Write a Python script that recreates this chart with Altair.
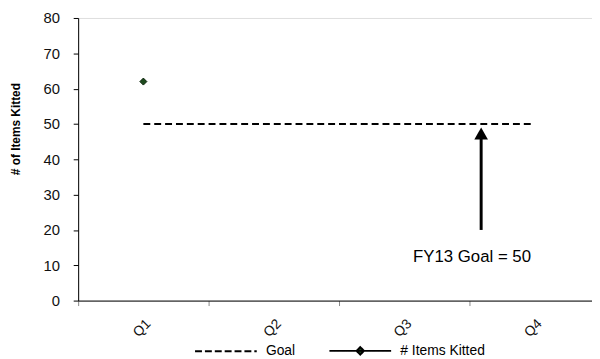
import altair as alt
import pandas as pd

quarters = ["Q1", "Q2", "Q3", "Q4"]
quarter_pos = [0.5, 1.5, 2.5, 3.5]
goal_values = [50, 50, 50, 50]
items_values = [62, None, None, None]
series_names = ["Goal", "# Items Kitted"]

arrow_x = [3.09]
arrow_y_start = [20]
arrow_y_end = [46]
arrow_head_y = [47.3]
note_x = [3.02]
note_y = [12.3]
note_text = ["FY13 Goal = 50"]

rows = []
for q, p, g, it in zip(quarters, quarter_pos, goal_values, items_values):
    rows.append({"quarter": q, "pos": p, "series": "Goal", "value": g})
    if it is not None:
        rows.append({"quarter": q, "pos": p, "series": "# Items Kitted", "value": it})
df = pd.DataFrame(rows)

ann = pd.DataFrame({"pos": arrow_x, "value": arrow_y_start, "y2": arrow_y_end,
                    "yh": arrow_head_y, "tx": note_x, "ty": note_y, "t": note_text})

FONT = "Liberation Sans"

xscale = alt.Scale(domain=[0, 3.94], nice=False, zero=False)
yscale = alt.Scale(domain=[0, 80], nice=False)

xaxis = alt.Axis(values=[0, 1, 2, 3],
                 labelExpr="['Q1','Q2','Q3','Q4'][datum.value]",
                 labelOffset=66, labelAngle=-45, labelFontSize=14,
                 labelColor="#111", labelPadding=11, tickSize=5, tickColor="#888",
                 domainColor="#000", grid=False, title=None, labelFont=FONT,
                 labelOverlap=False)
yaxis = alt.Axis(values=[0, 10, 20, 30, 40, 50, 60, 70, 80], tickCount=9,
                 labelFontSize=15, labelColor="#111",
                 labelPadding=14, tickSize=5, tickColor="#000", domainColor="#000",
                 grid=False, title="# of Items Kitted", titleFontSize=12,
                 titleFontWeight="bold", labelFont=FONT, titleFont=FONT,
                 titleColor="#000", labelOverlap=False,
                 titleX=-63, titleY=112, titleAngle=270, titleAlign="center",
                 titleBaseline="middle")

X = alt.X("pos:Q", scale=xscale, axis=xaxis)


def Y(field):
    return alt.Y(field, scale=yscale, axis=yaxis)


base = alt.Chart(df)

goal_line = base.transform_filter(alt.datum.series == "Goal").mark_line(
    color="#000", strokeWidth=2, strokeDash=[7, 4]
).encode(x=X, y=Y("value:Q"))

items_line = base.transform_filter(alt.datum.series == "# Items Kitted").mark_line(
    color="#000", strokeWidth=2
).encode(x=X, y=Y("value:Q"))

items_pt = base.transform_filter(alt.datum.series == "# Items Kitted").mark_point(
    shape="diamond", filled=True, fill="#1d4a1d", stroke="#0b240b", strokeWidth=1,
    size=50, opacity=1
).encode(x=X, y=Y("value:Q"))

leg = alt.Legend(title=None, orient="none", direction="horizontal",
                 legendX=117, legendY=304, symbolSize=3900,
                 labelFontSize=14, labelFont=FONT, labelColor="#000",
                 labelOffset=8, columnPadding=30, symbolStrokeWidth=2)

legend_layer = base.transform_filter("false").mark_point(
    filled=True, fill="#1d4a1d", stroke="#000", strokeWidth=2, opacity=1
).encode(
    x=X,
    y=Y("value:Q"),
    shape=alt.Shape("series:N",
                    scale=alt.Scale(domain=series_names,
                                    range=["M-1,0H1",
                                           "M-1,0H1M0,-0.12L0.12,0L0,0.12L-0.12,0Z"]),
                    legend=leg),
    strokeDash=alt.StrokeDash("series:N",
                              scale=alt.Scale(domain=series_names, range=[[7, 3], [1, 0]]),
                              legend=leg),
)

arrow_rule = alt.Chart(ann).mark_rule(color="#000", strokeWidth=3).encode(
    x=X, y=Y("value:Q"), y2="y2:Q")

arrow_head = alt.Chart(ann).mark_point(shape="triangle-up", filled=True, color="#000",
                                       size=190, opacity=1).encode(
    x=X, y=Y("yh:Q"))

note = alt.Chart(ann).mark_text(fontSize=17, font=FONT, color="#000",
                                align="center", baseline="middle").encode(
    x=alt.X("tx:Q", scale=xscale, axis=xaxis), y=Y("ty:Q"), text="t:N")

chart = alt.layer(goal_line, items_line, items_pt, legend_layer, arrow_rule, arrow_head, note).properties(
    width=520, height=286,
    autosize=alt.AutoSizeParams(type="none"),
    padding={"left": 71, "top": 8, "right": 0, "bottom": 57},
).configure_view(stroke=None).configure(background="white")

chart.save("out.html", embed_options={"renderer": "svg", "actions": False})
